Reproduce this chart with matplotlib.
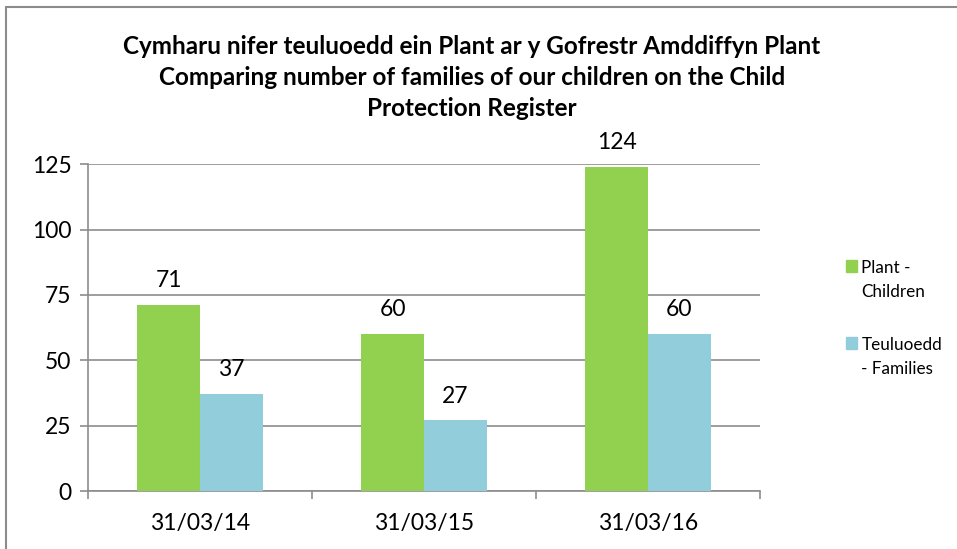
import matplotlib.pyplot as plt
from matplotlib.patches import Rectangle
import numpy as np

plt.rcParams["font.family"] = ["Lato", "DejaVu Sans"]

# ==== Dados ====
dates = ["31/03/14", "31/03/15", "31/03/16"]
series_names = ["Plant -\nChildren", "Teuluoedd\n- Families"]
children = [71, 60, 124]
families = [37, 27, 60]
colors = ["#92D050", "#92CDDC"]
yticks = [0, 25, 50, 75, 100, 125]

title = ("Cymharu nifer teuluoedd ein Plant ar y Gofrestr Amddiffyn Plant\n"
         "Comparing number of families of our children on the Child\n"
         "Protection Register")

# ==== Gráfico ====
fig = plt.figure(figsize=(9.57, 5.49), dpi=100)
ax = fig.add_axes([0.092, 0.1056, 0.702, 0.5954])

x = np.arange(len(dates))
w = 0.28
for i, vals in enumerate([children, families]):
    pos = x + (i - 0.5) * w
    bars = ax.bar(pos, vals, width=w, color=colors[i], zorder=3)
    for b, v in zip(bars, vals):
        ax.annotate(str(v), (b.get_x() + b.get_width() / 2, v),
                    xytext=(0, 10), textcoords="offset points",
                    ha="center", va="bottom", fontsize=16.5)

ax.set_xlim(-0.5, len(dates) - 0.5)
ax.set_ylim(0, 125)
ax.set_yticks(yticks)
ax.yaxis.grid(True, color="#8c8c8c", linewidth=1.2, zorder=0)
ax.set_xticks(x)
ax.set_xticklabels(dates, fontsize=16.5)
ax.set_xticks(np.arange(len(dates) + 1) - 0.5, minor=True)
ax.tick_params(axis="x", which="major", length=0, pad=16)
ax.tick_params(axis="x", which="minor", length=6, color="#8c8c8c", width=1.2)
ax.tick_params(axis="y", length=6, color="#8c8c8c", width=1.2, labelsize=16.5, pad=6)
for s in ["top", "right"]:
    ax.spines[s].set_visible(False)
for s in ["left", "bottom"]:
    ax.spines[s].set_color("#8c8c8c")
    ax.spines[s].set_linewidth(1.2)

fig.text(0.493, 0.937, title, ha="center", va="top", fontsize=17.5,
         fontweight="bold", linespacing=1.42)

# legenda
for i, name in enumerate(series_names):
    ytop = 0.527 - i * 0.14
    fig.add_artist(Rectangle((0.884, ytop - 0.022), 0.0115, 0.022,
                             transform=fig.transFigure, color=colors[i]))
    fig.text(0.9, ytop, name, ha="left", va="top", fontsize=12.3,
             linespacing=1.65)

# borda
fig.add_artist(Rectangle((0.006, -0.1), 1.2, 1.087, transform=fig.transFigure,
                         fill=False, edgecolor="#8c8c8c", linewidth=1.5))

fig.savefig("out.png", dpi=100)
